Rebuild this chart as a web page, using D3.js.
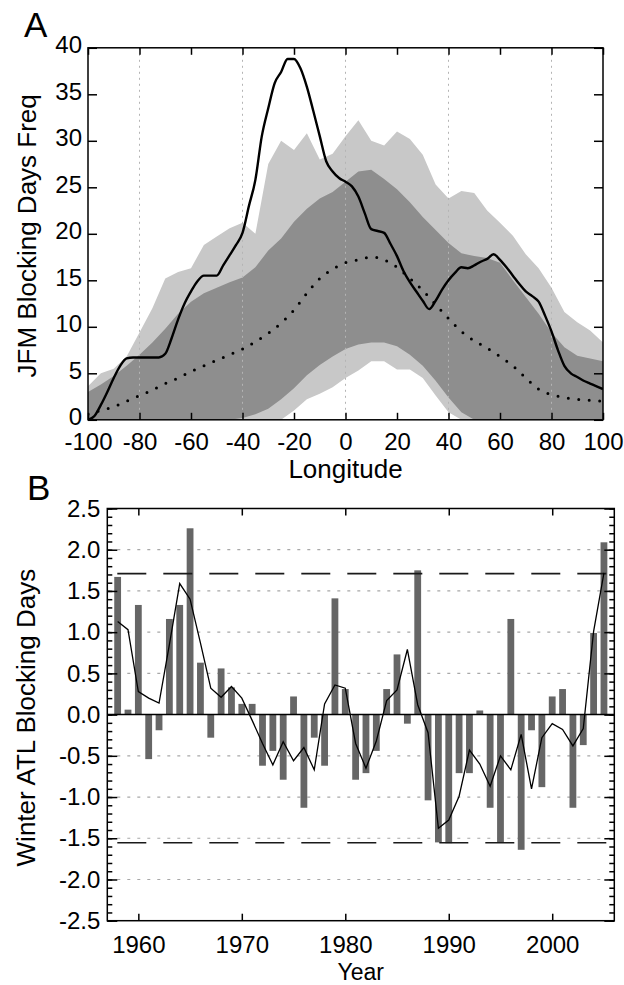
<!DOCTYPE html>
<html><head><meta charset="utf-8">
<script src="https://cdn.jsdelivr.net/npm/d3@7"></script>
<style>
body{margin:0;background:#fff}
text{font-family:"Liberation Sans",Arial,Helvetica,sans-serif;fill:#000}
</style></head>
<body><svg id="c" width="624" height="985"></svg>
<script>
// ---------- Panel A data ----------
const lonGrid = [-100,-95,-90,-85,-80,-75,-70,-65,-60,-55,-50,-45,-40,-35,-30,-25,-20,-15,-10,-5,0,5,10,15,20,25,30,35,40,45,50,55,60,65,70,75,80,85,90,95,100];
const meanFreq = [0.6,1.0,1.4,2.0,2.6,3.2,3.9,4.5,5.2,5.8,6.4,7.0,7.6,8.4,9.3,10.4,11.8,13.6,15.2,16.2,16.9,17.2,17.5,17.2,16.4,15.2,13.9,12.4,10.9,9.5,8.5,7.7,6.8,5.8,4.5,3.3,2.7,2.4,2.2,2.1,2.0];
const darkHigh = [3.0,3.8,4.7,5.8,7.0,8.3,9.8,11.4,12.7,13.6,14.2,14.8,15.3,16.4,18.2,19.5,21.3,22.7,23.8,24.5,25.6,26.7,26.9,25.9,24.8,23.4,21.8,20.4,19.0,17.9,17.6,17.4,16.9,15.0,13.2,11.4,9.4,7.8,6.9,6.6,6.3];
const darkLow = [0,0,0,0,0,0,0,0,0,0,0,0,0.2,0.6,1.2,2.2,3.4,4.8,5.9,6.8,7.6,8.1,8.3,8.3,7.9,7.0,5.8,4.2,2.4,0.8,0,0,0,0,0,0,0,0,0,0,0];
const lightHigh = [3.6,5.0,5.5,6.8,9.4,12.0,15.2,15.9,16.3,18.8,19.7,20.6,21.2,20.0,27.5,30.0,29.0,30.8,28.0,28.6,30.5,32.2,30.0,29.5,31.0,30.2,28.5,25.3,23.8,24.6,24.4,22.5,21.2,19.8,17.8,16.3,14.2,11.6,10.5,9.6,8.3];
const lightLow = [0,0,0,0,0,0,0,0,0,0,0,0,0,0,0,0,1.0,2.2,2.8,3.5,4.5,5.3,6.3,6.3,5.4,5.4,4.5,2.6,0.8,0,0,0,0,0,0,0,0,0,0,0,0];
const obsLon = [-100,-97.5,-95,-92.5,-90,-87.5,-85,-82.5,-80,-77.5,-75,-72.5,-70,-67.5,-65,-62.5,-60,-57.5,-55,-52.5,-50,-47.5,-45,-42.5,-40,-37.5,-35,-32.5,-30,-27.5,-25,-22.5,-20,-17.5,-15,-12.5,-10,-7.5,-5,-2.5,0,2.5,5,7.5,10,12.5,15,17.5,20,22.5,25,27.5,30,32.5,35,37.5,40,42.5,45,47.5,50,52.5,55,57.5,60,62.5,65,67.5,70,72.5,75,77.5,80,82.5,85,87.5,90,92.5,95,97.5,100];
const obsFreq = [0.0,0.4,1.6,3.0,4.5,5.8,6.6,6.7,6.7,6.7,6.7,6.7,7.1,8.8,10.8,12.5,13.8,14.9,15.5,15.5,15.5,16.6,17.7,18.8,20.1,23.0,25.8,30.5,33.5,36.2,37.4,38.8,38.8,37.8,35.8,33.2,30.5,27.8,26.7,26.0,25.6,25.1,24.0,22.2,20.5,20.3,20.1,18.9,17.6,16.0,14.8,13.8,12.8,11.9,12.8,14.0,15.0,15.8,16.4,16.3,16.6,17.0,17.3,17.8,17.2,16.4,15.5,14.6,13.8,13.3,12.7,11.2,9.5,7.5,5.8,5.0,4.6,4.2,3.9,3.6,3.3];
const lonTicks = [-100,-80,-60,-40,-20,0,20,40,60,80,100];
const lonGridLines = [-80,-40,0,40,80];
const freqTicks = [0,5,10,15,20,25,30,35,40];

// ---------- Panel B data ----------
const years = [1958,1959,1960,1961,1962,1963,1964,1965,1966,1967,1968,1969,1970,1971,1972,1973,1974,1975,1976,1977,1978,1979,1980,1981,1982,1983,1984,1985,1986,1987,1988,1989,1990,1991,1992,1993,1994,1995,1996,1997,1998,1999,2000,2001,2002,2003,2004,2005];
const anomaly = [1.67,0.06,1.33,-0.54,-0.19,1.16,1.33,2.26,0.63,-0.28,0.56,0.33,0.13,0.13,-0.62,-0.44,-0.79,0.22,-1.13,-0.28,-0.62,1.41,0.31,-0.79,-0.71,-0.44,0.31,0.73,-0.11,1.75,-1.04,-1.55,-1.56,-0.71,-0.71,0.05,-1.13,-1.55,1.16,-1.64,-0.19,-0.88,0.22,0.31,-1.13,-0.37,0.99,2.09];
const smoothed = [1.13,1.03,0.28,0.20,0.14,0.85,1.59,1.40,0.87,0.32,0.21,0.34,0.20,-0.07,-0.35,-0.61,-0.33,-0.56,-0.40,-0.67,0.13,0.36,0.32,-0.35,-0.65,-0.32,0.17,0.30,0.79,0.12,-0.22,-1.38,-1.28,-0.99,-0.43,-0.60,-0.87,-0.50,-0.67,-0.24,-0.90,-0.28,-0.11,-0.18,-0.38,-0.17,1.01,1.72];
const thresholds = [1.71,-1.555];
const yearTicks = [1960,1970,1980,1990,2000];
const anomTicks = [-2.5,-2.0,-1.5,-1.0,-0.5,0.0,0.5,1.0,1.5,2.0,2.5];
const anomMinor = [-2.5,-2.4,-2.3,-2.2,-2.1,-2.0,-1.9,-1.8,-1.7,-1.6,-1.5,-1.4,-1.3,-1.2,-1.1,-1.0,-0.9,-0.8,-0.7,-0.6,-0.5,-0.4,-0.3,-0.2,-0.1,0,0.1,0.2,0.3,0.4,0.5,0.6,0.7,0.8,0.9,1.0,1.1,1.2,1.3,1.4,1.5,1.6,1.7,1.8,1.9,2.0,2.1,2.2,2.3,2.4,2.5];
const anomGrid = [-2.0,-1.5,-1.0,-0.5,0.5,1.0,1.5,2.0];

const svg = d3.select("#c");
const FS = 24;

// ================= Panel A =================
const xA = d3.scaleLinear([-100,100],[88,603]);
const yA = d3.scaleLinear([0,40],[419.8,47.8]);
const gA = svg.append("g");
gA.append("clipPath").attr("id","clipA").append("rect")
  .attr("x",xA(-100)).attr("y",yA(40)).attr("width",xA(100)-xA(-100)).attr("height",yA(0)-yA(40));
const pA = gA.append("g").attr("clip-path","url(#clipA)");
const idx = lonGrid.map((d,i)=>i);
pA.append("path").attr("fill","#c8c8c8")
  .attr("d", d3.area().x(i=>xA(lonGrid[i])).y0(i=>yA(lightLow[i])).y1(i=>yA(lightHigh[i]))(idx));
pA.append("path").attr("fill","#8e8e8e")
  .attr("d", d3.area().x(i=>xA(lonGrid[i])).y0(i=>yA(darkLow[i])).y1(i=>yA(darkHigh[i]))(idx));
pA.selectAll("line.grid").data(lonGridLines).join("line")
  .attr("x1",d=>xA(d)).attr("x2",d=>xA(d)).attr("y1",yA(40)).attr("y2",yA(0))
  .attr("stroke","#b4b4b4").attr("stroke-width",1).attr("stroke-dasharray","2,4");
pA.append("path").attr("fill","none").attr("stroke","#000").attr("stroke-width",3)
  .attr("stroke-linecap","round").attr("stroke-dasharray","0,10.5")
  .attr("d", d3.line().curve(d3.curveMonotoneX).x(i=>xA(lonGrid[i])).y(i=>yA(meanFreq[i]))(idx));
pA.append("path").attr("fill","none").attr("stroke","#000").attr("stroke-width",2.4)
  .attr("stroke-linejoin","round")
  .attr("d", d3.line().curve(d3.curveMonotoneX).x((d,i)=>xA(obsLon[i])).y(d=>yA(d))(obsFreq));

// axes A
function styleAxis(g){ g.select(".domain").remove(); g.selectAll("line").attr("stroke","#000").attr("stroke-width",1.5); g.selectAll("text").attr("font-size",FS).attr("font-family",'"Liberation Sans",Arial,sans-serif').attr("fill","#000"); }
gA.append("g").attr("transform",`translate(0,${yA(0)})`)
  .call(d3.axisBottom(xA).tickValues(lonTicks).tickSize(-7).tickPadding(13).tickFormat(d=>String(d))).call(styleAxis);
gA.append("g").attr("transform",`translate(0,${yA(40)})`)
  .call(d3.axisTop(xA).tickValues(lonTicks).tickSize(-7).tickFormat("")).call(styleAxis);
gA.append("g").attr("transform",`translate(${xA(-100)},0)`)
  .call(d3.axisLeft(yA).tickValues(freqTicks).tickSize(-9).tickPadding(6).tickFormat(d=>String(d))).call(styleAxis)
  .selectAll("text").attr("dy","0.2em");
gA.append("g").attr("transform",`translate(${xA(100)},0)`)
  .call(d3.axisRight(yA).tickValues(freqTicks).tickSize(-9).tickFormat("")).call(styleAxis);
gA.append("rect").attr("x",xA(-100)).attr("y",yA(40)).attr("width",xA(100)-xA(-100)).attr("height",yA(0)-yA(40))
  .attr("fill","none").attr("stroke","#000").attr("stroke-width",1.5);
gA.append("text").attr("x",(xA(-100)+xA(100))/2).attr("y",478).attr("text-anchor","middle").attr("font-size",26).text("Longitude");
gA.append("text").attr("transform",`translate(36,${(yA(0)+yA(40))/2+2}) rotate(-90)`).attr("text-anchor","middle").attr("font-size",26).text("JFM Blocking Days Freq");
gA.append("text").attr("x",24).attr("y",37).attr("font-size",35).text("A");

// ================= Panel B =================
const xB = d3.scaleLinear([1957,2006],[107.3,614.3]);
const yB = d3.scaleLinear([-2.5,2.5],[920.7,508.5]);
const gB = svg.append("g");
gB.selectAll("line.grid").data(anomGrid).join("line")
  .attr("x1",xB(1957)).attr("x2",xB(2006)).attr("y1",d=>yB(d)).attr("y2",d=>yB(d))
  .attr("stroke","#a8a8a8").attr("stroke-width",1.2).attr("stroke-dasharray","3,7");
const bw = 6.8;
gB.selectAll("rect.bar").data(years).join("rect")
  .attr("x",d=>xB(d)-bw/2).attr("width",bw)
  .attr("y",(d,i)=>yB(Math.max(0,anomaly[i])))
  .attr("height",(d,i)=>Math.abs(yB(anomaly[i])-yB(0)))
  .attr("fill","#666666");
gB.selectAll("line.thr").data(thresholds).join("line")
  .attr("x1",xB(1957)+10).attr("x2",xB(2006)).attr("y1",d=>yB(d)).attr("y2",d=>yB(d))
  .attr("stroke","#1a1a1a").attr("stroke-width",1.6).attr("stroke-dasharray","29,17");
gB.append("line").attr("x1",xB(1957)).attr("x2",xB(2006)).attr("y1",yB(0)).attr("y2",yB(0))
  .attr("stroke","#000").attr("stroke-width",1.5);
gB.append("path").attr("fill","none").attr("stroke","#000").attr("stroke-width",1.3)
  .attr("d", d3.line().x(d=>xB(d)).y((d,i)=>yB(smoothed[i]))(years));

gB.append("g").attr("transform",`translate(0,${yB(-2.5)})`)
  .call(d3.axisBottom(xB).tickValues(yearTicks).tickSize(-7).tickPadding(15).tickFormat(d=>String(d))).call(styleAxis);
gB.append("g").attr("transform",`translate(0,${yB(2.5)})`)
  .call(d3.axisTop(xB).tickValues(yearTicks).tickSize(-7).tickFormat("")).call(styleAxis);
gB.append("g").attr("transform",`translate(${xB(1957)},0)`)
  .call(d3.axisLeft(yB).tickValues(anomMinor).tickSize(-5).tickFormat("")).call(styleAxis);
gB.append("g").attr("transform",`translate(${xB(1957)},0)`)
  .call(d3.axisLeft(yB).tickValues(anomTicks).tickSize(-10).tickPadding(7).tickFormat(d=>d.toFixed(1).replace("-0.0","0.0"))).call(styleAxis);
gB.append("g").attr("transform",`translate(${xB(2006)},0)`)
  .call(d3.axisRight(yB).tickValues(anomMinor).tickSize(-5).tickFormat("")).call(styleAxis);
gB.append("g").attr("transform",`translate(${xB(2006)},0)`)
  .call(d3.axisRight(yB).tickValues(anomTicks).tickSize(-10).tickFormat("")).call(styleAxis);
gB.append("rect").attr("x",xB(1957)).attr("y",yB(2.5)).attr("width",xB(2006)-xB(1957)).attr("height",yB(-2.5)-yB(2.5))
  .attr("fill","none").attr("stroke","#000").attr("stroke-width",1.5);
gB.append("text").attr("x",(xB(1957)+xB(2006))/2).attr("y",980).attr("text-anchor","middle").attr("font-size",23).text("Year");
gB.append("text").attr("transform",`translate(35,${(yB(-2.5)+yB(2.5))/2+3}) rotate(-90)`).attr("text-anchor","middle").attr("font-size",26).text("Winter ATL Blocking Days");
gB.append("text").attr("x",27).attr("y",500).attr("font-size",35).text("B");
</script></body></html>
